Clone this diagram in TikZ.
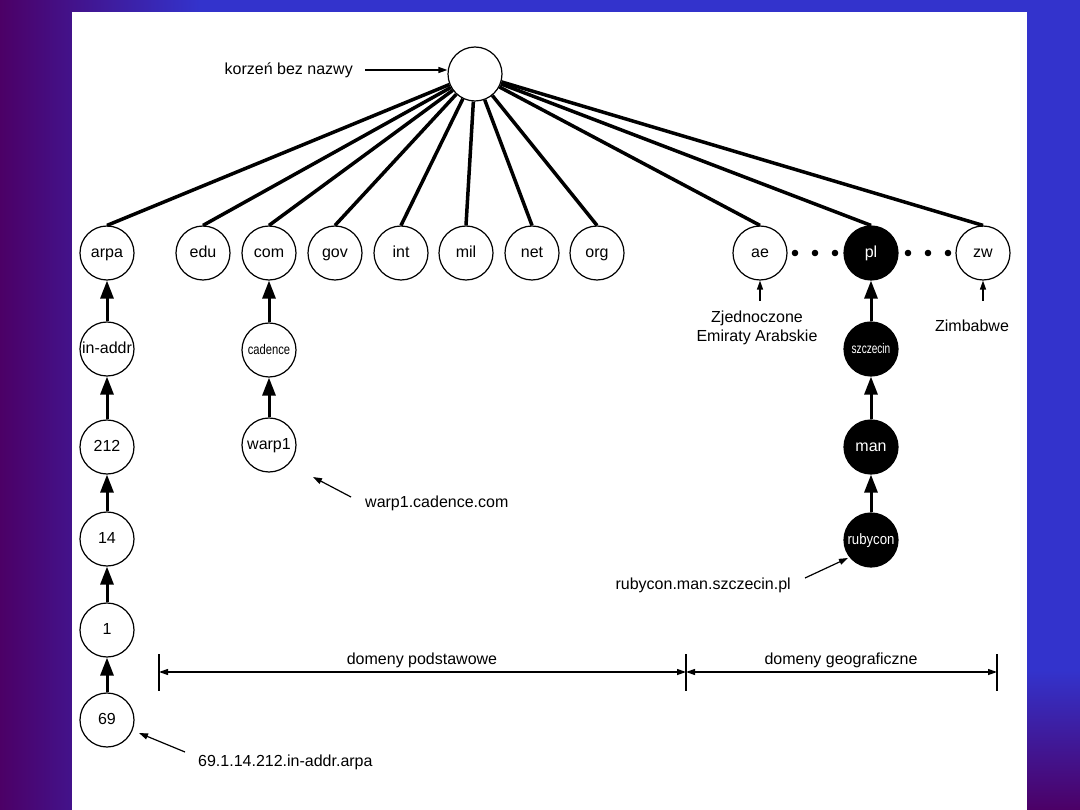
\documentclass[tikz,border=0pt]{standalone}
\usepackage{fontspec}
\setmainfont{Liberation Sans}
\usetikzlibrary{arrows.meta}
\definecolor{bgblue}{RGB}{51,51,204}
\definecolor{bgpurple}{RGB}{76,0,102}
\begin{document}
\begin{tikzpicture}[x=1pt,y=-1pt,
  font=\fontsize{16}{19}\selectfont,
  dn/.style={circle,draw,line width=1.2pt,minimum size=54pt,inner sep=0pt,fill=white,text height=12pt,text depth=3.6pt},
  bn/.style={dn,fill=black,text=white},
  rootedge/.style={line width=3.5pt},
  up/.style={line width=3pt,-{Triangle[length=18pt,width=13pt]}},
  note/.style={line width=1.2pt,-{Triangle[length=9pt,width=6pt]}},
  dim/.style={line width=1.2pt,{Triangle[length=9pt,width=6pt]}-{Triangle[length=9pt,width=6pt]}},
  tick/.style={line width=1.2pt},
  lbl/.style={inner sep=0pt}
]
% background
\useasboundingbox (0,0) rectangle (1080,810);
\fill[bgblue] (0,0) rectangle (1080,810);
\shade[top color=bgblue,bottom color=bgpurple] (0,670) rectangle (1080,810);
\shade[left color=bgpurple,right color=bgblue] (0,0) rectangle (200,810);
\fill[white] (72,12) rectangle (1027,810);

% root
\node[dn] (root) at (475,74) {};
\node[lbl,anchor=east] (rootlbl) at (353,70) {korzeń bez nazwy};
\coordinate (rootarr) at (365,70);
\draw[note] (rootarr) -- (root.west |- rootarr);

% top-level domains
\node[dn] (arpa) at (107,253) {arpa};
\node[dn] (edu) at (203,253) {edu};
\node[dn] (com) at (269,253) {com};
\node[dn] (gov) at (335,253) {gov};
\node[dn] (int) at (401,253) {int};
\node[dn] (mil) at (466,253) {mil};
\node[dn] (net) at (532,253) {net};
\node[dn] (org) at (597,253) {org};
\node[dn] (ae) at (760,253) {ae};
\node[bn] (pl) at (871,253) {pl};
\node[dn] (zw) at (983,253) {zw};

\foreach \c in {arpa,edu,com,gov,int,mil,net,org,ae,pl,zw}
  \draw[rootedge] (root) -- (\c.north);

% dots
\foreach \x in {795,815,835,908,928,948}
  \fill (\x,253) circle (3.3pt);

% arpa chain
\node[dn] (inaddr) at (107,349) {in-addr};
\node[dn] (n212) at (107,447) {212};
\node[dn] (n14) at (107,539) {14};
\node[dn] (n1) at (107,630) {1};
\node[dn] (n69) at (107,720) {69};
\draw[up] (inaddr) -- (arpa);
\draw[up] (n212) -- (inaddr);
\draw[up] (n14) -- (n212);
\draw[up] (n1) -- (n14);
\draw[up] (n69) -- (n1);

% com chain
\node[dn] (cadence) at (269,350) {\scalebox{0.8}[1]{\fontsize{14}{16}\selectfont cadence}};
\node[dn] (warp) at (269,445) {warp1};
\draw[up] (cadence) -- (com);
\draw[up] (warp) -- (cadence);

% pl chain
\node[bn] (szczecin) at (871,349) {\scalebox{0.72}[1]{\fontsize{14}{16}\selectfont szczecin}};
\node[bn] (man) at (871,447) {man};
\node[bn] (rubycon) at (871,540) {\scalebox{0.88}[1]{\fontsize{15}{17}\selectfont rubycon}};
\draw[up] (szczecin) -- (pl);
\draw[up] (man) -- (szczecin);
\draw[up] (rubycon) -- (man);

% annotations
\node[lbl,align=center] (zjed) at (757,328) {Zjednoczone\\Emiraty Arabskie};
\coordinate (aeA) at (760,301);
\draw[note] (aeA) -- (ae);
\node[lbl] (zimb) at (972,326) {Zimbabwe};
\coordinate (zwA) at (983,301);
\draw[note] (zwA) -- (zw);

\node[lbl,anchor=west] (warplbl) at (365,503) {warp1.cadence.com};
\coordinate (warpA) at (351,497);
\coordinate (warpB) at (313,477);
\draw[note] (warpA) -- (warpB);

\node[lbl,anchor=east] (rublbl) at (791,585) {rubycon.man.szczecin.pl};
\coordinate (rubA) at (805,578);
\coordinate (rubB) at (848,558);
\draw[note] (rubA) -- (rubB);

\node[lbl,anchor=west] (arpalbl) at (198,762) {69.1.14.212.in-addr.arpa};
\coordinate (arpA) at (185,752);
\coordinate (arpB) at (139,733);
\draw[note] (arpA) -- (arpB);

% dimension lines
\coordinate (d1) at (159,672);
\coordinate (d2) at (686,672);
\coordinate (d3) at (997,672);
\draw[tick] (159,654) -- (159,691);
\draw[tick] (686,654) -- (686,691);
\draw[tick] (997,654) -- (997,691);
\draw[dim] (d1) -- (d2);
\draw[dim] (d2) -- (d3);
\node[lbl] (dpod) at (422,660) {domeny podstawowe};
\node[lbl] (dgeo) at (841,660) {domeny geograficzne};
\end{tikzpicture}
\end{document}
